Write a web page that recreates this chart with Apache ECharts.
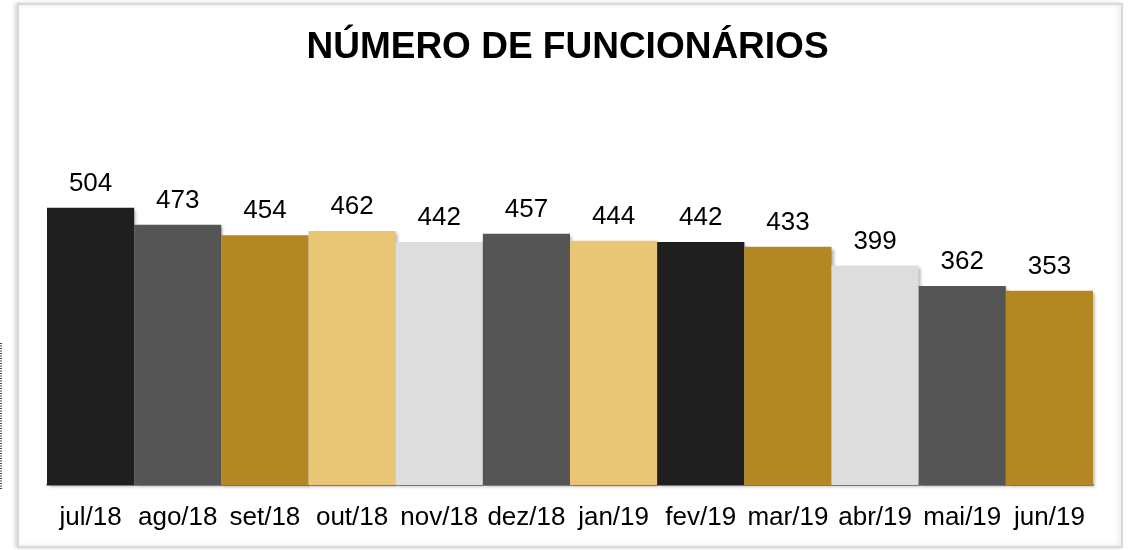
<!DOCTYPE html>
<html>
<head>
<meta charset="utf-8">
<script src="https://cdn.jsdelivr.net/npm/echarts@6/dist/echarts.min.js"></script>
<style>
  html, body { margin: 0; padding: 0; background: #fff; }
  #chart { width: 1135px; height: 550px; }
</style>
</head>
<body>
<div id="chart"></div>
<script>
// dados do gráfico
var meses = ['jul/18', 'ago/18', 'set/18', 'out/18', 'nov/18', 'dez/18',
    'jan/19', 'fev/19', 'mar/19', 'abr/19', 'mai/19', 'jun/19'];

var funcionarios = [504, 473, 454, 462, 442, 457, 444, 442, 433, 399, 362, 353];

var coresBarras = ['#1f1f1f', '#555555', '#b38822', '#e8c675', '#dddddd', '#555555',
    '#e8c675', '#1f1f1f', '#b38822', '#dddddd', '#555555', '#b38822'];

var chart = echarts.init(document.getElementById('chart'));

var option = {
    animation: false,
    title: {
        text: 'NÚMERO DE FUNCIONÁRIOS',
        left: 'center',
        top: 24,
        textStyle: {
            fontFamily: 'Liberation Sans, Arial',
            fontSize: 37,
            fontWeight: 'bold',
            color: '#000'
        }
    },
    graphic: [
        {
            type: 'rect',
            shape: { x: 18, y: 4, width: 1104, height: 543 },
            style: {
                fill: '#fff',
                stroke: '#d9d9d9',
                lineWidth: 2,
                shadowColor: 'rgba(0,0,0,0.15)',
                shadowBlur: 4,
                shadowOffsetX: -2
            },
            z: -10
        },
        {
            type: 'line',
            shape: { x1: 1, y1: 343, x2: 1, y2: 489 },
            style: { stroke: '#444', lineWidth: 2, lineDash: [1, 1.5] }
        }
    ],
    grid: {
        left: 47,
        right: 42,
        top: 155,
        bottom: 65
    },
    xAxis: {
        type: 'category',
        data: meses,
        axisTick: { show: false },
        axisLine: { lineStyle: { color: '#9a9a9a', width: 2 } },
        axisLabel: {
            interval: 0,
            margin: 20,
            fontFamily: 'Liberation Sans, Arial',
            fontSize: 26,
            color: '#000'
        }
    },
    yAxis: {
        type: 'value',
        min: 0,
        max: 600,
        show: false,
        splitLine: { show: false }
    },
    series: [{
        name: 'Funcionários',
        type: 'bar',
        barCategoryGap: 0,
        data: funcionarios.map(function (v, i) {
            return { value: v, itemStyle: { color: coresBarras[i] } };
        }),
        itemStyle: {
            shadowColor: 'rgba(0,0,0,0.3)',
            shadowBlur: 3,
            shadowOffsetX: 2,
            shadowOffsetY: 2
        },
        label: {
            show: true,
            position: 'top',
            distance: 11,
            fontFamily: 'Liberation Sans, Arial',
            fontSize: 26,
            color: '#000'
        }
    }]
};

chart.setOption(option);
</script>
</body>
</html>
